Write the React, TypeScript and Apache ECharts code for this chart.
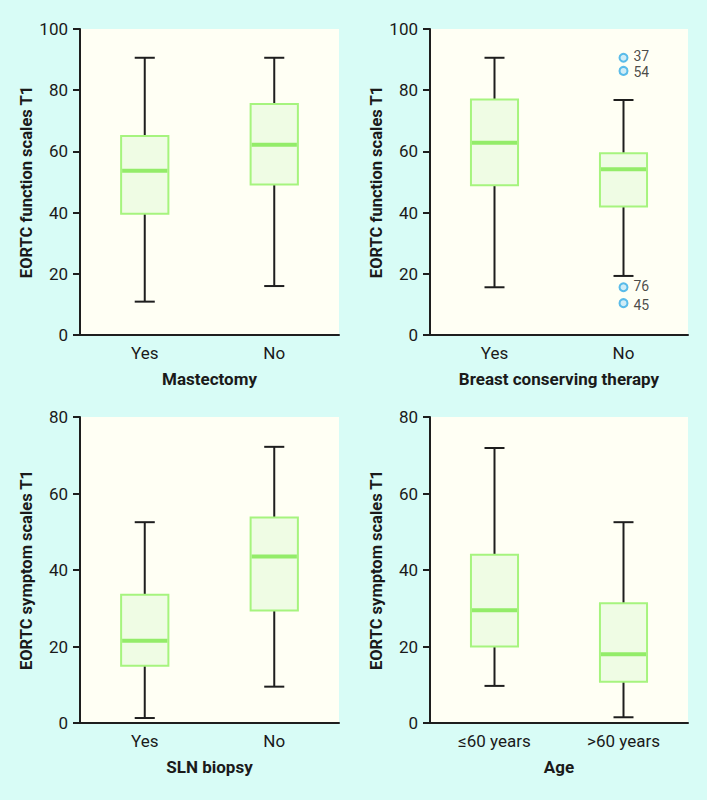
import React, { useEffect, useRef } from "react";
import * as echarts from "echarts";

// ---- data ----
const xNames = ["Mastectomy", "Breast conserving therapy", "SLN biopsy", "Age"];
const yNames = [
  "EORTC function scales T1",
  "EORTC function scales T1",
  "EORTC symptom scales T1",
  "EORTC symptom scales T1",
];
const catsMastectomy = ["Yes", "No"];
const catsBCT = ["Yes", "No"];
const catsSLN = ["Yes", "No"];
const catsAge = ["≤60 years", ">60 years"];

// [min, Q1, median, Q3, max]
const boxMastectomy = [
  [10.9, 39.6, 53.7, 65.0, 90.6],
  [16.0, 49.2, 62.2, 75.5, 90.6],
];
const boxBCT = [
  [15.6, 48.9, 62.8, 77.0, 90.6],
  [19.3, 42.0, 54.2, 59.4, 76.8],
];
const boxSLN = [
  [1.3, 15.0, 21.5, 33.5, 52.5],
  [9.5, 29.4, 43.5, 53.7, 72.2],
];
const boxAge = [
  [9.7, 20.0, 29.5, 44.0, 71.9],
  [1.5, 10.8, 18.0, 31.3, 52.5],
];
// outliers: [category, value, case id]
const outliersBCT: [string, number, string][] = [
  ["No", 90.6, "37"],
  ["No", 86.3, "54"],
  ["No", 15.6, "76"],
  ["No", 10.4, "45"],
];
const yMaxFunction = 100;
const yMaxSymptom = 80;
const yStep = 20;

const FONT = "Roboto";
const AXIS_COLOR = "#1e1e1e";
// small vertical nudges so that close labels do not collide
const labelNudge = [-2, 1.5, -1.5, 1.5];

export default function App() {
  const ref = useRef<HTMLDivElement>(null);
  useEffect(() => {
    document.body.style.margin = "0";
    if (!ref.current) return;
    const chart = echarts.init(ref.current, null, { renderer: "svg" });

    const panels = [
      { cats: catsMastectomy, box: boxMastectomy, yMax: yMaxFunction, left: 80, top: 29, width: 259 },
      { cats: catsBCT, box: boxBCT, yMax: yMaxFunction, left: 430, top: 29, width: 258 },
      { cats: catsSLN, box: boxSLN, yMax: yMaxSymptom, left: 80, top: 417, width: 259 },
      { cats: catsAge, box: boxAge, yMax: yMaxSymptom, left: 430, top: 417, width: 258 },
    ];

    const renderBox = (params: any, api: any) => {
      const x = api.value(0);
      const pMin = api.coord([x, api.value(1)]);
      const pQ1 = api.coord([x, api.value(2)]);
      const pMed = api.coord([x, api.value(3)]);
      const pQ3 = api.coord([x, api.value(4)]);
      const pMax = api.coord([x, api.value(5)]);
      const band = api.size([1, 0])[0];
      const bw = band * 0.365;
      const cw = band * 0.155;
      const cx = pMin[0];
      const blk = { stroke: AXIS_COLOR, lineWidth: 2 };
      return {
        type: "group",
        children: [
          { type: "line", shape: { x1: cx, y1: pMax[1], x2: cx, y2: pQ3[1] }, style: blk },
          { type: "line", shape: { x1: cx, y1: pQ1[1], x2: cx, y2: pMin[1] }, style: blk },
          { type: "line", shape: { x1: cx - cw / 2, y1: pMax[1], x2: cx + cw / 2, y2: pMax[1] }, style: blk },
          { type: "line", shape: { x1: cx - cw / 2, y1: pMin[1], x2: cx + cw / 2, y2: pMin[1] }, style: blk },
          {
            type: "rect",
            shape: { x: cx - bw / 2, y: pQ3[1], width: bw, height: pQ1[1] - pQ3[1] },
            style: { fill: "#effce4", stroke: "#a6f47e", lineWidth: 2 },
          },
          {
            type: "line",
            shape: { x1: cx - bw / 2 + 1, y1: pMed[1], x2: cx + bw / 2 - 1, y2: pMed[1] },
            style: { stroke: "#93ec69", lineWidth: 4 },
          },
        ],
      };
    };

    const option: any = {
      animation: false,
      backgroundColor: "#d8fcf6",
      textStyle: { fontFamily: FONT },
      grid: panels.map((p) => ({
        left: p.left,
        top: p.top,
        width: p.width,
        height: 306,
        show: true,
        backgroundColor: "#fffff4",
        borderWidth: 0,
      })),
      xAxis: panels.map((p, i) => ({
        type: "category",
        gridIndex: i,
        data: p.cats,
        name: xNames[i],
        nameLocation: "middle",
        nameGap: 35,
        nameTextStyle: { fontFamily: FONT, fontSize: 17, fontWeight: "bold", color: "#1a1a1a" },
        axisLine: { lineStyle: { color: AXIS_COLOR, width: 2 } },
        axisTick: { alignWithLabel: true, length: 7, lineStyle: { color: AXIS_COLOR, width: 2 } },
        axisLabel: { fontFamily: FONT, fontSize: 17, color: "#1a1a1a", margin: 9 },
        splitLine: { show: false },
      })),
      yAxis: panels.map((p, i) => ({
        type: "value",
        gridIndex: i,
        min: 0,
        max: p.yMax,
        interval: yStep,
        name: yNames[i],
        nameLocation: "middle",
        nameGap: 45,
        nameTextStyle: { fontFamily: FONT, fontSize: 16.5, fontWeight: "bold", color: "#1a1a1a" },
        axisLine: { show: true, lineStyle: { color: AXIS_COLOR, width: 2 } },
        axisTick: { show: true, length: 7, lineStyle: { color: AXIS_COLOR, width: 2 } },
        axisLabel: { fontFamily: FONT, fontSize: 17, color: "#1a1a1a", margin: 12 },
        splitLine: { show: false },
      })),
      series: [
        ...panels.map((p, i) => ({
          type: "custom",
          xAxisIndex: i,
          yAxisIndex: i,
          renderItem: renderBox,
          encode: { x: 0, y: [1, 2, 3, 4, 5] },
          data: p.box.map((d, k) => [k, ...d]),
          z: 3,
        })),
        {
          type: "scatter",
          xAxisIndex: 1,
          yAxisIndex: 1,
          symbol: "circle",
          symbolSize: 8,
          itemStyle: { color: "#c4e9f8", borderColor: "#36ace6", borderWidth: 2 },
          label: {
            show: true,
            position: "right",
            distance: 5,
            fontFamily: FONT,
            fontSize: 14,
            lineHeight: 13,
            color: "#1a1a1a",
            formatter: (d: any) => d.value[2],
          },
          data: outliersBCT.map((o, k) => ({
            value: [o[0], o[1], o[2]],
            label: { offset: [0, labelNudge[k]] },
          })),
          z: 5,
        },
      ],
    };
    chart.setOption(option);
    return () => chart.dispose();
  }, []);
  return <div ref={ref} style={{ width: 707, height: 800 }} />;
}
